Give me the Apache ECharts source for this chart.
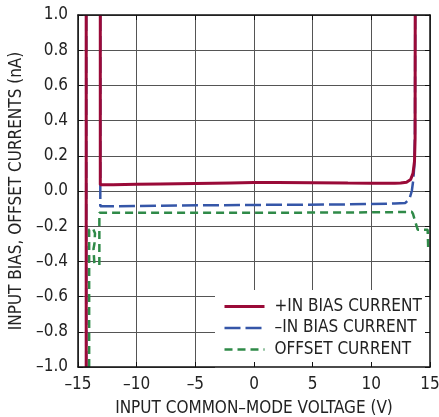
<!DOCTYPE html>
<html>
<head>
<meta charset="utf-8">
<script src="https://cdn.jsdelivr.net/npm/echarts@6/dist/echarts.min.js"></script>
<style>
html,body{margin:0;padding:0;background:#fff;}
#chart{width:439px;height:417px;}
</style>
</head>
<body>
<div id="chart"></div>
<script>
// ---- data (V, nA); '-' marks a break in the trace ----
const seriesNames = ['+IN BIAS CURRENT', '–IN BIAS CURRENT', 'OFFSET CURRENT'];

const plusInX = [-14.3, -14.3, '-', -13.1, -13.1, -12, -10, -8, -5, -2, 0, 2, 5, 8, 10, 12, 12.5, 13.0, 13.35, 13.55, 13.68, 13.73, 13.74];
const plusInY = [-1.0, 1.0, '-', 1.0, 0.035, 0.036, 0.038, 0.040, 0.043, 0.046, 0.048, 0.048, 0.047, 0.045, 0.044, 0.044, 0.045, 0.050, 0.065, 0.10, 0.17, 0.30, 1.0];

const minusInX = [-14.3, -14.3, '-', -13.1, -13.1, -12, -8, -4, 0, 4, 8, 12, 12.9, 13.25, 13.45, 13.57, 13.67, 13.72, 13.74];
const minusInY = [-1.0, 1.0, '-', 1.0, -0.087, -0.087, -0.084, -0.081, -0.079, -0.078, -0.076, -0.071, -0.068, -0.045, 0.0, 0.06, 0.15, 0.35, 1.0];

const offsetX = [-14.05, -14.05, -13.75, -13.55, -13.6, -13.68, -13.6, '-', -13.18, -13.18, -12, -8, -4, 0, 4, 8, 12, 13.45, 13.55, 13.95, 14.8, 14.85];
const offsetY = [-1.0, -0.22, -0.21, -0.24, -0.30, -0.33, -0.42, '-', -0.42, -0.123, -0.124, -0.124, -0.124, -0.124, -0.123, -0.122, -0.120, -0.118, -0.13, -0.22, -0.22, -0.33];

const xTicks = { min: -15, max: 15, interval: 5 };
const yTicks = { min: -1, max: 1, interval: 0.2 };

function pairs(xs, ys) {
  return xs.map((x, i) => (x === '-' ? [null, '-'] : [x, ys[i]]));
}

const FONT = "'Liberation Sans Narrow', 'DejaVu Sans Condensed', 'Arial Narrow', sans-serif";
const dash = s => s.replace('-', '–');

const chart = echarts.init(document.getElementById('chart'), null, { renderer: 'canvas' });

const frameAxisCommon = {
  type: 'value',
  z: 5,
  axisLine: { show: true, onZero: false, lineStyle: { color: '#111', width: 1.5 } },
  axisTick: { show: true, inside: true, length: 5, lineStyle: { color: '#111', width: 1 } },
  axisLabel: { show: false },
  splitLine: { show: false }
};

chart.setOption({
  animation: false,
  backgroundColor: '#fff',
  grid: { left: 78, top: 15, right: 9, bottom: 50, containLabel: false, outerBoundsMode: 'none' },
  legend: {
    data: seriesNames,
    orient: 'vertical',
    left: 215,
    top: 290,
    z: 4,
    backgroundColor: '#fff',
    padding: [8, 40, 10, 8],
    itemWidth: 40,
    itemHeight: 14,
    itemGap: 4.5,
    itemStyle: { opacity: 0 },
    lineStyle: { width: 'inherit' },
    textStyle: { fontFamily: FONT, fontSize: 17, lineHeight: 17, color: '#222', padding: [0, 0, 0, 5] }
  },
  xAxis: [
    {
      type: 'value', min: xTicks.min, max: xTicks.max, interval: xTicks.interval,
      position: 'bottom', z: 0,
      name: 'INPUT COMMON–MODE VOLTAGE (V)', nameLocation: 'middle', nameGap: 33,
      nameTextStyle: { fontFamily: FONT, fontSize: 17, color: '#222' },
      axisLine: { show: false }, axisTick: { show: false },
      axisLabel: { fontFamily: FONT, fontSize: 17, color: '#222', margin: 9, formatter: v => dash(String(v)) },
      splitLine: { show: true, lineStyle: { color: '#555', width: 1 } }
    },
    Object.assign({ min: xTicks.min, max: xTicks.max, interval: xTicks.interval, position: 'bottom' }, frameAxisCommon),
    Object.assign({ min: xTicks.min, max: xTicks.max, interval: xTicks.interval, position: 'top' }, frameAxisCommon)
  ],
  yAxis: [
    {
      type: 'value', min: yTicks.min, max: yTicks.max, interval: yTicks.interval,
      position: 'left', z: 0,
      name: 'INPUT BIAS, OFFSET CURRENTS (nA)', nameLocation: 'middle', nameGap: 43,
      nameTextStyle: { fontFamily: FONT, fontSize: 17, color: '#222' },
      axisLine: { show: false }, axisTick: { show: false },
      axisLabel: { fontFamily: FONT, fontSize: 17, color: '#222', margin: 10, formatter: v => dash(v.toFixed(1)) },
      splitLine: { show: true, lineStyle: { color: '#555', width: 1 } }
    },
    Object.assign({ min: yTicks.min, max: yTicks.max, interval: yTicks.interval, position: 'left' }, frameAxisCommon),
    Object.assign({ min: yTicks.min, max: yTicks.max, interval: yTicks.interval, position: 'right' }, frameAxisCommon)
  ],
  series: [
    {
      name: seriesNames[0], type: 'line', xAxisIndex: 0, yAxisIndex: 0, z: 3,
      data: pairs(plusInX, plusInY), symbol: 'none', smooth: false, connectNulls: false,
      lineStyle: { color: '#9a0a38', width: 3 }, itemStyle: { color: '#9a0a38' }
    },
    {
      name: seriesNames[1], type: 'line', xAxisIndex: 0, yAxisIndex: 0, z: 2,
      data: pairs(minusInX, minusInY), symbol: 'none', connectNulls: false,
      lineStyle: { color: '#3556a8', width: 2.5, type: [16, 5] }, itemStyle: { color: '#3556a8' }
    },
    {
      name: seriesNames[2], type: 'line', xAxisIndex: 0, yAxisIndex: 0, z: 2,
      data: pairs(offsetX, offsetY), symbol: 'none', connectNulls: false,
      lineStyle: { color: '#2f8a48', width: 2.5, type: [8, 5] }, itemStyle: { color: '#2f8a48' }
    }
  ]
});
</script>
</body>
</html>
